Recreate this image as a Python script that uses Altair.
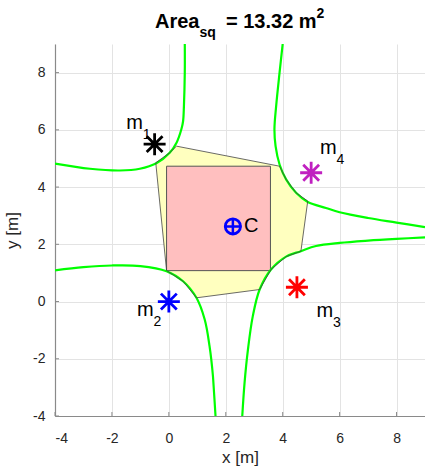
import altair as alt
import pandas as pd

FONT = "Liberation Sans"
TXT = "#262626"

# Sensor positions m1..m4
m_ids = ["1", "2", "3", "4"]
m_x = [-0.5, 0.0, 4.5, 5.0]
m_y = [5.5, 0.0, 0.5, 4.5]
m_colors = ["#000000", "#0000FF", "#FF0000", "#C020C0"]

# Label offsets (data units) of each m_i label from its marker
lab_dx = [-1.0, -1.12, 0.69, 0.31]
lab_dy = [0.53, -0.51, -1.03, 0.64]

# Boundary curves (green), each traced edge to edge
tl_x = [0.56, 0.56, 0.53, 0.50, 0.44, 0.27, 0.03, -0.44, -1.02, -1.72, -2.77, -4.0]
tl_y = [9.0, 8.0, 6.83, 6.30, 6.02, 5.55, 5.20, 4.83, 4.64, 4.58, 4.64, 4.82]

tr_x = [4.00, 3.89, 3.77, 3.71, 3.75, 3.89, 4.12, 4.47, 4.88, 5.52, 6.0, 7.0, 8.0, 9.0]
tr_y = [9.0, 8.0, 6.83, 6.02, 5.43, 4.79, 4.27, 3.80, 3.48, 3.27, 3.12, 2.92, 2.76, 2.60]

br_x = [9.0, 8.0, 7.0, 6.0, 5.17, 4.64, 4.12, 3.59, 3.19, 2.95, 2.78, 2.66, 2.58]
br_y = [2.24, 2.19, 2.13, 2.05, 1.94, 1.76, 1.57, 1.12, 0.42, -0.51, -1.67, -2.84, -4.0]

bl_x = [-4.0, -3.0, -2.0, -1.0, -0.08, 0.50, 0.97, 1.26, 1.43, 1.55, 1.64]
bl_y = [1.09, 1.20, 1.26, 1.24, 1.06, 0.71, 0.13, -0.63, -1.56, -2.61, -4.0]

# Feasible region polygon (closed)
poly_x = [0.27, 3.89, 4.12, 4.47, 4.88, 4.64, 4.12, 3.59, 3.19, 0.97, 0.50, -0.08, -0.46, 0.03, 0.27]
poly_y = [5.43, 4.73, 4.27, 3.80, 3.51, 1.76, 1.57, 1.12, 0.42, 0.13, 0.71, 1.08, 4.85, 5.20, 5.43]

# Inscribed square
area_sq = 13.32
sq_x0, sq_y0 = -0.08, 1.08

ticks = [-4, -2, 0, 2, 4, 6, 8]

W, H = 370, 372

# ---- tables ----
curve_rows = []
for name, xs, ys in [("tl", tl_x, tl_y), ("tr", tr_x, tr_y), ("br", br_x, br_y), ("bl", bl_x, bl_y)]:
    for i, (a, b) in enumerate(zip(xs, ys)):
        curve_rows.append({"curve": name, "i": i, "x": a, "y": b})
curves = pd.DataFrame(curve_rows)

poly = pd.DataFrame({"i": range(len(poly_x)), "x": poly_x, "y": poly_y})

side = area_sq ** 0.5
square = pd.DataFrame({"x": [sq_x0], "x2": [sq_x0 + side], "y": [sq_y0], "y2": [sq_y0 + side]})

marks = pd.DataFrame({"id": m_ids, "x": m_x, "y": m_y, "c": m_colors,
                      "lx": [a + d for a, d in zip(m_x, lab_dx)],
                      "ly": [b + d for b, d in zip(m_y, lab_dy)]})
cent = pd.DataFrame({"x": [sum(m_x) / 4], "y": [sum(m_y) / 4]})
tick_df = pd.DataFrame({"t": ticks})

xs = alt.Scale(domain=[-4, 9], nice=False, zero=False)
ys = alt.Scale(domain=[-4, 9], nice=False, zero=False)
plain = "'' + datum.value"
x_axis = alt.Axis(values=ticks, title="x [m]", labelPadding=15, titleY=46,
                  titleBaseline="alphabetic", labelExpr=plain)
y_axis = alt.Axis(values=ticks, title="y [m]", labelPadding=10, titleX=-38,
                  titleY=H / 2, titleAngle=-90, titleBaseline="alphabetic",
                  labelExpr=plain)
X = lambda f: alt.X(f, type="quantitative", scale=xs, axis=x_axis)
Y = lambda f: alt.Y(f, type="quantitative", scale=ys, axis=y_axis)

poly_fill = alt.Chart(poly).mark_line(fill="#FFFFBF", stroke=None, strokeWidth=0).encode(
    x=X("x"), y=Y("y"), order="i:Q")

sq_rect = alt.Chart(square).mark_rect(fill="#FFBFBF", stroke="#555555", strokeWidth=1).encode(
    x=X("x"), x2="x2:Q", y=Y("y"), y2="y2:Q")

curve_lines = alt.Chart(curves).mark_line(color="#00FF00", strokeWidth=2.2, clip=True,
                                          interpolate="catmull-rom").encode(
    x=X("x"), y=Y("y"), detail="curve:N", order="i:Q")

poly_edge = alt.Chart(poly).mark_line(color="#444444", strokeWidth=0.8).encode(
    x=X("x"), y=Y("y"), order="i:Q")

x_ticks = alt.Chart(tick_df).mark_rule(color="#8a8a8a", strokeWidth=1).encode(
    x=X("t"), y=alt.value(H), y2=alt.value(H - 4))
y_ticks = alt.Chart(tick_df).mark_rule(color="#8a8a8a", strokeWidth=1).encode(
    y=Y("t"), x=alt.value(0), x2=alt.value(4))

star = "M-1,0L1,0M0,-1L0,1M-0.72,-0.72L0.72,0.72M-0.72,0.72L0.72,-0.72"
stars = alt.Chart(marks).mark_point(shape=star, size=484, filled=False, strokeWidth=2.8,
                                    opacity=1).encode(
    x=X("x"), y=Y("y"), stroke=alt.Stroke("c:N", scale=None))

m_text = alt.Chart(marks).mark_text(text="m", font=FONT, fontSize=20, align="left",
                                    baseline="alphabetic", color="#000000").encode(
    x=X("lx"), y=Y("ly"))
m_sub = alt.Chart(marks).mark_text(font=FONT, fontSize=14, align="left",
                                   baseline="alphabetic", dx=16.5, dy=10,
                                   color="#000000").encode(
    x=X("lx"), y=Y("ly"), text="id:N")

c_circle = alt.Chart(cent).mark_point(shape="circle", size=230, filled=False,
                                      strokeWidth=2.8, color="#0000FF", opacity=1).encode(
    x=X("x"), y=Y("y"))
c_plus = alt.Chart(cent).mark_point(shape="M-1,0L1,0M0,-1L0,1", size=290, filled=False,
                                    strokeWidth=2.5, color="#0000FF", opacity=1).encode(
    x=X("x"), y=Y("y"))
c_text = alt.Chart(cent).mark_text(text="C", font=FONT, fontSize=20, align="left",
                                   baseline="middle", dx=11, color="#000000").encode(
    x=X("x"), y=Y("y"))


def title_piece(txt, px, py, size):
    return alt.Chart(alt.Data(values=[{}])).mark_text(
        text=txt, font=FONT, fontSize=size, fontWeight="bold", align="left",
        baseline="alphabetic", color="#000000").encode(x=alt.value(px), y=alt.value(py))


title_layers = [
    title_piece("Area", 100, -15.7, 20),
    title_piece("sq", 144.5, -6.7, 14),
    title_piece("= 13.32 m", 171, -15.7, 20),
    title_piece("2", 261.6, -25.7, 14),
]

chart = alt.layer(
    poly_fill, sq_rect, curve_lines, poly_edge, x_ticks, y_ticks,
    stars, m_text, m_sub, c_circle, c_plus, c_text, *title_layers
).properties(
    width=W, height=H,
    padding={"left": 55, "top": 44, "right": 0, "bottom": 52},
    autosize="none",
    background="white",
).configure_view(stroke=None).configure_axis(
    grid=True, gridColor="#e3e3e3", gridWidth=1,
    domainColor="#8a8a8a", domainWidth=1.2, ticks=False,
    labelFont=FONT, labelFontSize=14, labelColor=TXT,
    titleFont=FONT, titleFontSize=17, titleColor=TXT, titleFontWeight="normal",
)

chart.save("out.html", embed_options={"renderer": "svg", "actions": False})
